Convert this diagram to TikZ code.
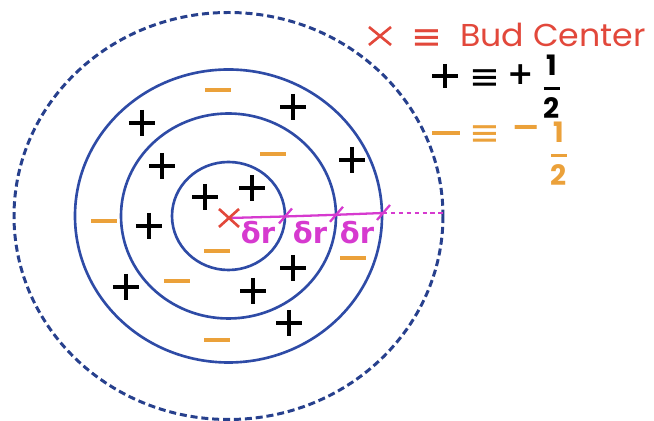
\documentclass[tikz,border=0pt]{standalone}
\usepackage{amsmath}
\usepackage{fontspec}
\setmainfont{Poppins}
\newfontfamily\symfont{DejaVu Sans}
\usetikzlibrary{positioning}
\definecolor{budred}{HTML}{E2483B}
\definecolor{ringblue}{HTML}{2E4BA6}
\definecolor{halforange}{HTML}{EBA13A}
\definecolor{stepmag}{HTML}{D63ACF}

\begin{document}
\begin{tikzpicture}[x=0.02cm, y=-0.02cm,
    ring/.style={draw=ringblue, line width=1.5pt},
    rimring/.style={draw=ringblue!85!black, line width=1.7pt,
                    dash pattern=on 4pt off 2.2pt},
    plusmark/.style={line width=1.8pt, black},
    minusmark/.style={line width=1.8pt, halforange},
    budmark/.style={line width=1.5pt, budred},
    stepline/.style={line width=1.3pt, stepmag},
    drlabel/.style={text=stepmag, font=\symfont\bfseries\fontsize{16.5}{18}\selectfont,
                    inner sep=0pt},
    legtext/.style={font=\fontsize{18}{20}\selectfont, inner sep=0pt},
    fractext/.style={font=\fontsize{16}{18}\selectfont\bfseries, inner sep=0pt},
    eqsign/.style={font=\symfont\fontsize{21}{23}\selectfont, inner sep=0pt}
  ]
  \useasboundingbox (0,0) rectangle (654,421);

  % Rings
  \coordinate (c) at (228.5,216);
  \draw[ring] (c) ellipse [x radius=56.5, y radius=54];
  \draw[ring] (c) ellipse [x radius=107.5, y radius=102.5];
  \draw[ring] (c) ellipse [x radius=153.5, y radius=146.5];
  \draw[rimring] (c) ellipse [x radius=214.5, y radius=203.5];

  % Charges
  \foreach \x/\y in {142/123, 293/107, 162/166, 352/160, 205/197, 252/188,
                     149/226, 126/287, 293/268, 253/291, 289/323}
    \draw[plusmark] (\x-13,\y) -- (\x+13,\y) (\x,\y-13) -- (\x,\y+13);
  \foreach \x/\y in {218/90, 273/154, 104/221, 217/251, 177/281, 217/340,
                     353/258}
    \draw[minusmark] (\x-13,\y) -- (\x+13,\y);

  % Radial steps
  \coordinate (bud) at (229,218);
  \coordinate (r1) at (285,216.5);
  \coordinate (r2) at (336,214.8);
  \coordinate (r3) at (383,213);
  \coordinate (edge) at (443,213);
  \draw[stepline] (bud) -- (r1) -- (r2) -- (r3);
  \draw[stepline, dash pattern=on 2.5pt off 2pt] (r3) -- (edge);
  \foreach \p in {r1, r2, r3}
    \draw[stepline] (\p) ++(-6,7) -- ++(13,-15);
  \draw[budmark] (bud) ++(-10,-9) -- ++(20,18) (bud) ++(-10,9) -- ++(20,-18);
  \node[drlabel] (dr1) at (258,233) {δr};
  \node[drlabel] (dr2) at (310,233) {δr};
  \node[drlabel] (dr3) at (357,233) {δr};

  % Legend
  \coordinate (keybud) at (380,36);
  \draw[budmark] (keybud) ++(-11,-9) -- ++(22,18) (keybud) ++(-11,9) -- ++(22,-18);
  \node[eqsign, text=budred] (eqbud) at (427,40) {≡};
  \node[legtext, text=budred, anchor=base west, xscale=1.05] (budtxt) at (460,47)
    {Bud Center};

  \coordinate (keyplus) at (445,76);
  \draw[plusmark] (keyplus) ++(-13,0) -- ++(26,0) (keyplus) ++(0,-12) -- ++(0,24);
  \node[eqsign] (eqplus) at (485,80) {≡};
  \node[legtext, font=\symfont\bfseries\fontsize{18}{20}\selectfont] (sgnplus)
    at (521,75) {+};
  \node[fractext] (halfplus) at (552,87)
    {$\genfrac{}{}{1.5pt}{0}{\text{1}}{\text{2}}$};

  \coordinate (keyminus) at (446,133);
  \draw[minusmark] (keyminus) ++(-14,0) -- ++(28,0);
  \node[eqsign, text=halforange] (eqminus) at (485,136) {≡};
  \node[legtext, font=\symfont\bfseries\fontsize{20}{22}\selectfont,
        text=halforange] (sgnminus) at (526,132) {−};
  \node[fractext, text=halforange] (halfminus) at (559,154)
    {$\genfrac{}{}{1.5pt}{0}{\text{1}}{\text{2}}$};
\end{tikzpicture}
\end{document}
